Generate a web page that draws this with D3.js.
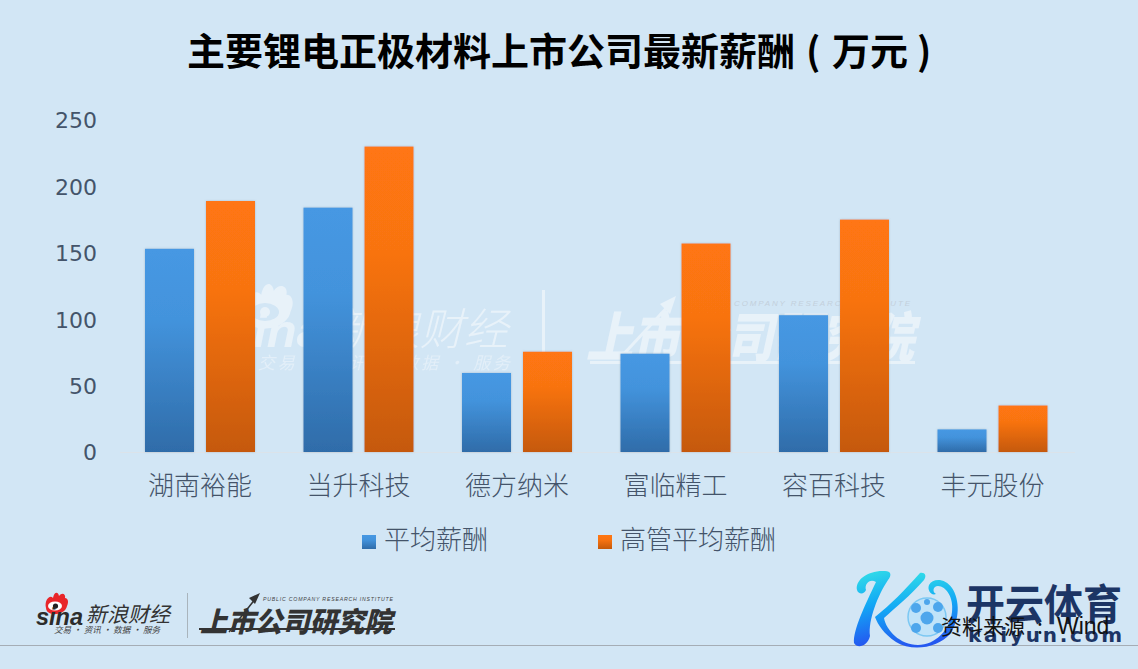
<!DOCTYPE html>
<html><head><meta charset="utf-8">
<script src="https://cdnjs.cloudflare.com/ajax/libs/d3/7.8.5/d3.min.js"></script>
<style>html,body{margin:0;padding:0;background:#d2e6f5;overflow:hidden}svg{display:block}</style>
</head><body><svg id="c" width="1138" height="669"></svg>
<script>
const categories=["湖南裕能","当升科技","德方纳米","富临精工","容百科技","丰元股份"];
const avgPay=[153,184,59.5,74,103,17];
const execPay=[189,230,75.5,157,175,35];
const seriesNames=["平均薪酬","高管平均薪酬"];
const tickValues=[0,50,100,150,200,250];
const CJK='"Noto Sans CJK SC","Noto Sans",sans-serif';
const LAT='"Liberation Sans",sans-serif';
const flame="M46 608C44 600 50 594 53 598C54 592 58 591 59 596C62 592 66 594 65 598C68 598 69 602 67 606C66 612 58 615 52 614C48 613 46 611 46 608Z";
const svg=d3.select("#c");
svg.append("rect").attr("width",1138).attr("height",669).attr("fill","#d2e6f5");
const defs=svg.append("defs");
function grad(id,a,b){const g=defs.append("linearGradient").attr("id",id).attr("x1",0).attr("y1",0).attr("x2",0).attr("y2",1);
 g.append("stop").attr("offset","0").attr("stop-color",a);g.append("stop").attr("offset","0.35").attr("stop-color",d3.interpolateRgb(a,b)(0.12));g.append("stop").attr("offset","1").attr("stop-color",b);}
grad("gb","#4698e3","#2f6ca9");grad("go","#ff7612","#c5590a");
const kg=defs.append("linearGradient").attr("id","gk").attr("x1",0).attr("y1",0).attr("x2",0.15).attr("y2",1);
kg.append("stop").attr("offset","0").attr("stop-color","#35e3e6");kg.append("stop").attr("offset",".5").attr("stop-color","#12a8f5");kg.append("stop").attr("offset","1").attr("stop-color","#2458f0");
const f=defs.append("filter").attr("id","sh").attr("x","-10%").attr("width","120%");
f.append("feDropShadow").attr("dx",0).attr("dy",0).attr("stdDeviation",1.2).attr("flood-color","#6b7f92").attr("flood-opacity",.4);

// watermark
const wm=svg.append("g").attr("fill","#eef5fb").attr("opacity",.8);
wm.append("path").attr("d",flame).attr("transform","translate(150.5,-955) scale(2.09)");
wm.append("ellipse").attr("cx",265).attr("cy",312).attr("rx",14).attr("ry",9).attr("fill","#d2e6f5");
wm.append("circle").attr("cx",265).attr("cy",312).attr("r",5);
wm.append("text").attr("x",226).attr("y",347).attr("font-family",LAT).attr("font-weight",700).attr("font-style","italic").attr("font-size",46).attr("textLength",98).attr("lengthAdjust","spacingAndGlyphs").text("sina");
wm.append("text").attr("x",332).attr("y",345).attr("font-family",CJK).attr("font-weight",300).attr("font-style","italic").attr("font-size",44).text("新浪财经");
wm.append("text").attr("x",258).attr("y",369).attr("font-family",CJK).attr("font-style","italic").attr("font-size",17).attr("textLength",252).attr("opacity",.75).text("交易 · 资讯 · 数据 · 服务");
wm.append("rect").attr("x",542).attr("y",290).attr("width",3).attr("height",88);
wm.append("text").attr("x",586).attr("y",357).attr("font-family",CJK).attr("font-weight",900).attr("font-style","italic").attr("font-size",54).attr("textLength",328).attr("lengthAdjust","spacingAndGlyphs").text("上市公司研究院");
wm.append("path").attr("d","M620 358L672 302").attr("stroke","#eef5fb").attr("stroke-width",3);
wm.append("path").attr("d","M676 296L660 304L670 314Z");
wm.append("rect").attr("x",590).attr("y",361).attr("width",325).attr("height",3);
svg.append("text").attr("x",690).attr("y",306).attr("font-family",LAT).attr("font-style","italic").attr("font-size",8).attr("textLength",220).attr("fill","#c3d0dc").text("PUBLIC COMPANY RESEARCH INSTITUTE");

const x0=d3.scaleBand().domain(categories).range([120.75,1071.75]).paddingInner(.306).paddingOuter(.153);
const x1=d3.scaleBand().domain(seriesNames).range([0,x0.bandwidth()]).paddingInner(.197).paddingOuter(0);
const y=d3.scaleLinear().domain([0,250]).range([452,120]);

svg.append("line").attr("x1",120).attr("x2",1075).attr("y1",452.5).attr("y2",452.5).attr("stroke","#dbe3ea").attr("stroke-width",1);

const rows=[avgPay,execPay];
const fills=["url(#gb)","url(#go)"];
seriesNames.forEach((s,i)=>{
 svg.append("g").selectAll("rect").data(categories).join("rect")
  .attr("x",c=>x0(c)+x1(s)).attr("width",x1.bandwidth())
  .attr("y",(c,j)=>y(rows[i][j])).attr("height",(c,j)=>y(0)-y(rows[i][j]))
  .attr("fill",fills[i]).attr("filter","url(#sh)");
});

const yAx=svg.append("g").attr("transform","translate(97,0)").call(d3.axisLeft(y).tickValues(tickValues).tickSize(0).tickPadding(0));
yAx.select(".domain").remove();
yAx.selectAll("text").attr("font-family",'"DejaVu Sans",sans-serif').attr("font-size",22).attr("fill","#44546a").attr("dy","0.36em");
const xAx=svg.append("g").attr("transform","translate(0,452)").call(d3.axisBottom(x0).tickSize(0).tickPadding(25));
xAx.select(".domain").remove();
xAx.selectAll("text").attr("font-family",CJK).attr("font-weight",300).attr("font-size",26).attr("fill","#44546a");

// legend
const lx=[362,598],ltx=[384,620];
seriesNames.forEach((s,i)=>{
 svg.append("rect").attr("x",lx[i]).attr("y",535).attr("width",14).attr("height",14).attr("fill",fills[i]);
 svg.append("text").attr("x",ltx[i]).attr("y",549).attr("font-family",CJK).attr("font-weight",300).attr("font-size",26).attr("fill","#44546a").text(s);
});

// title
const title=svg.append("text").attr("y",65).attr("font-family",CJK).attr("font-weight",700).attr("font-size",38).attr("fill","#000");
title.append("tspan").attr("x",187).text("主要锂电正极材料上市公司最新薪酬");
title.append("tspan").attr("x",806).text("(");
title.append("tspan").attr("x",832).text("万元");
title.append("tspan").attr("x",917).text(")");

// footer line
svg.append("rect").attr("x",0).attr("y",645).attr("width",1138).attr("height",1).attr("fill","#a5adb5");

// sina logo
const sl=svg.append("g");
sl.append("path").attr("d",flame).attr("fill","#e8262a");
sl.append("ellipse").attr("cx",55).attr("cy",606).attr("rx",7).attr("ry",4.5).attr("fill","#fff");
sl.append("circle").attr("cx",55.5).attr("cy",606).attr("r",2.6).attr("fill","#222");
sl.append("text").attr("x",36).attr("y",625).attr("font-family",LAT).attr("font-weight",700).attr("font-style","italic").attr("font-size",23).attr("textLength",47).attr("lengthAdjust","spacingAndGlyphs").attr("fill","#2b2b2b").text("sina");
sl.append("text").attr("x",86).attr("y",622).attr("font-family",CJK).attr("font-style","italic").attr("font-size",21).attr("fill","#333").text("新浪财经");
sl.append("text").attr("x",54).attr("y",633).attr("font-family",CJK).attr("font-style","italic").attr("font-size",8.6).attr("fill","#444").text("交易 · 资讯 · 数据 · 服务");
sl.append("rect").attr("x",187).attr("y",593).attr("width",1).attr("height",45).attr("fill","#a9b4bc");
sl.append("text").attr("x",200).attr("y",632).attr("font-family",CJK).attr("font-weight",900).attr("font-style","italic").attr("font-size",28).attr("textLength",192).attr("lengthAdjust","spacingAndGlyphs").attr("fill","#333").text("上市公司研究院");
sl.append("text").attr("x",263).attr("y",601).attr("font-family",LAT).attr("font-style","italic").attr("font-size",5.2).attr("textLength",130).attr("fill","#444").text("PUBLIC COMPANY RESEARCH INSTITUTE");
sl.append("path").attr("d","M229 632L256 598").attr("stroke","#333").attr("stroke-width",1.5);
sl.append("path").attr("d","M260 593L249 598L255 604Z").attr("fill","#333");
sl.append("rect").attr("x",199).attr("y",628).attr("width",196).attr("height",2).attr("fill","#333");

// kaiyun logo
const kl=svg.append("g");
kl.append("path").attr("d","M857 590C855 580 868 570 885 571C891 571 892 575 888 580C878 595 868 620 870 636C868 645 858 650 854 643C853 630 865 605 876 582C870 578 864 584 866 590C864 595 858 594 857 590Z").attr("fill","url(#gk)");
kl.append("path").attr("d","M920 573C925 572 927 576 924 580C910 596 895 608 884 618C886 630 900 645 918 645C935 645 950 630 952 612C954 598 946 586 938 586C933 586 932 592 936 594C931 596 927 590 929 585C933 578 945 578 952 588C960 600 960 620 950 634C938 648 912 652 896 642C884 634 878 625 875 617C890 605 905 590 920 573Z").attr("fill","url(#gk)");
kl.append("circle").attr("cx",927).attr("cy",617).attr("r",19).attr("fill","#bfe3f9").attr("stroke","#7cc8f3").attr("stroke-width",1.5);
const panels=[[927,618,6.5],[916,608,5],[938,607,5],[916,628,5],[938,628,5],[927,602,3]];
kl.selectAll("circle.panel").data(panels).join("path").attr("d",d=>d3.symbol(d3.symbolWye===0?d3.symbolCircle:d3.symbolCircle,Math.PI*d[2]*d[2])()).attr("transform",d=>`translate(${d[0]},${d[1]})`).attr("fill","#4da6ec");
kl.append("text").attr("x",966).attr("y",620).attr("font-family",CJK).attr("font-weight",700).attr("font-size",42).attr("textLength",156).attr("lengthAdjust","spacingAndGlyphs").attr("fill","#1c3565").text("开云体育");
kl.append("text").attr("x",968).attr("y",642).attr("font-family",'"DejaVu Sans",sans-serif').attr("font-weight",700).attr("font-size",20).attr("textLength",154).attr("fill","#1c3565").text("kaiyun.com");

const src=svg.append("text").attr("y",634).attr("font-family",CJK).attr("font-size",21).attr("fill","#111");
src.append("tspan").attr("x",941).text("资料来源");
src.append("tspan").attr("x",1037).text(":");
src.append("tspan").attr("x",1057).attr("font-family",LAT).attr("font-size",23).text("Wind");
</script></body></html>
